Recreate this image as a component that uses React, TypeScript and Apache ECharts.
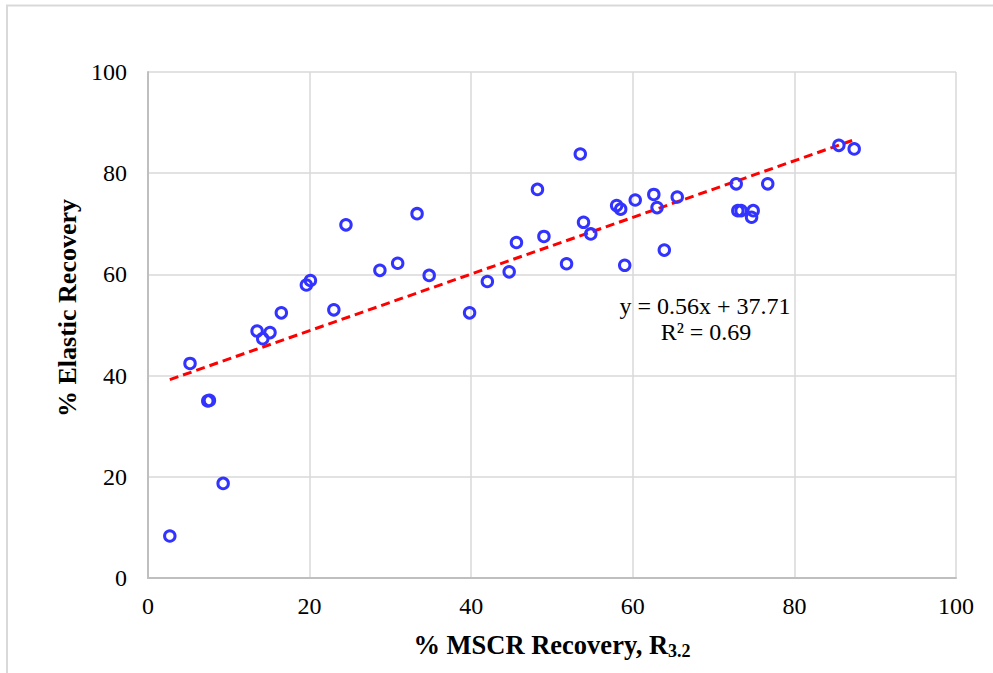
import React, { useEffect, useRef } from "react";
import * as echarts from "echarts";

const mscrRecovery: number[] = [
  2.7, 5.2, 7.4, 7.6, 9.3, 13.5, 14.2, 15.1, 16.5, 19.6, 20.1, 23.0, 24.5, 28.7,
  30.9, 33.3, 34.8, 39.8, 42.0, 44.7, 45.6, 48.2, 49.0, 51.8, 53.5, 53.9, 54.8,
  58.0, 58.5, 59.0, 60.3, 62.6, 63.0, 63.9, 65.5, 72.8, 73.0, 73.4, 74.7, 74.9,
  76.7, 85.5, 87.4,
];
const elasticRecovery: number[] = [
  8.3, 42.4, 35.0, 35.1, 18.7, 48.8, 47.3, 48.5, 52.4, 57.9, 58.8, 53.0, 69.8, 60.8,
  62.2, 72.0, 59.8, 52.4, 58.6, 60.5, 66.3, 76.8, 67.5, 62.1, 83.8, 70.3, 68.0,
  73.6, 72.9, 61.8, 74.7, 75.8, 73.2, 64.8, 75.3, 77.9, 72.6, 72.6, 71.3, 72.6,
  77.9, 85.5, 84.8,
];
const trendX: number[] = [2.7, 87.4];
const trendY: number[] = [39.2, 86.6];
const equationLines: string[] = ["y = 0.56x + 37.71", "R² = 0.69"];
const xTitle = "% MSCR Recovery, R";
const xTitleSub = "3.2";
const yTitle = "% Elastic Recovery";

const FONT = "'Liberation Serif', 'Times New Roman', serif";

export default function App() {
  const ref = useRef<HTMLDivElement>(null);
  useEffect(() => {
    if (!ref.current) return;
    const chart = echarts.init(ref.current, null, { renderer: "svg" });
    const points = mscrRecovery.map((x, i) => [x, elasticRecovery[i]]);
    const trend = trendX.map((x, i) => [x, trendY[i]]);
    chart.setOption({
      animation: false,
      backgroundColor: "#ffffff",
      grid: { left: 148, top: 72, right: 37, bottom: 95, containLabel: false },
      xAxis: {
        type: "value",
        min: 0,
        max: 100,
        interval: 20,
        axisLine: { show: true, lineStyle: { color: "#bfbfbf", width: 2 } },
        axisTick: { show: false },
        splitLine: { show: true, lineStyle: { color: "#d9d9d9", width: 1.5 } },
        axisLabel: { fontFamily: FONT, fontSize: 24, color: "#000", margin: 16 },
      },
      yAxis: {
        type: "value",
        min: 0,
        max: 100,
        interval: 20,
        axisLine: { show: true, lineStyle: { color: "#bfbfbf", width: 2 } },
        axisTick: { show: false },
        splitLine: { show: true, lineStyle: { color: "#d9d9d9", width: 1.5 } },
        axisLabel: { fontFamily: FONT, fontSize: 24, color: "#000", margin: 21 },
      },
      series: [
        {
          type: "line",
          data: trend,
          symbol: "none",
          lineStyle: { color: "#ff0000", width: 3, type: [9, 5] },
          z: 2,
        },
        {
          type: "scatter",
          data: points,
          symbol: "circle",
          symbolSize: 10.5,
          itemStyle: {
            color: "rgba(0,0,0,0)",
            borderColor: "#3333ff",
            borderWidth: 3,
            opacity: 1,
          },
          z: 3,
        },
      ],
      graphic: [
        {
          type: "rect",
          shape: { x: 7, y: 5.5, width: 1000, height: 700 },
          style: { fill: "none", stroke: "#d9d9d9", lineWidth: 2 },
          silent: true,
          z: -1,
        },
        {
          type: "text",
          x: 705,
          y: 306,
          style: {
            text: equationLines[0],
            fontFamily: FONT,
            fontSize: 24,
            fill: "#000",
            align: "center",
            verticalAlign: "middle",
          },
        },
        {
          type: "text",
          x: 706,
          y: 332,
          style: {
            text: equationLines[1],
            fontFamily: FONT,
            fontSize: 24,
            fill: "#000",
            align: "center",
            verticalAlign: "middle",
          },
        },
        {
          type: "text",
          x: 67,
          y: 308,
          rotation: Math.PI / 2,
          style: {
            text: yTitle,
            fontFamily: FONT,
            fontSize: 26,
            fontWeight: "bold",
            fill: "#000",
            align: "center",
            verticalAlign: "middle",
          },
        },
        {
          type: "text",
          x: 552,
          y: 645,
          style: {
            text: `{a|${xTitle}}{b|${xTitleSub}}`,
            align: "center",
            verticalAlign: "middle",
            rich: {
              a: { fontFamily: FONT, fontSize: 26.5, fontWeight: "bold", fill: "#000", lineHeight: 30 },
              b: {
                fontFamily: FONT,
                fontSize: 18,
                fontWeight: "bold",
                fill: "#000",
                lineHeight: 10,
                verticalAlign: "bottom",
              },
            },
          },
        },
      ],
    });
    return () => chart.dispose();
  }, []);
  return (
    <div
      ref={ref}
      style={{ position: "absolute", left: 0, top: 0, width: 993, height: 673 }}
    />
  );
}
